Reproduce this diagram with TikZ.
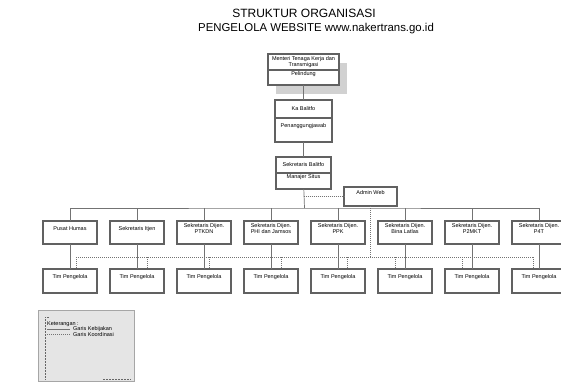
\documentclass[tikz,border=0pt]{standalone}
\usepackage{fontspec}
\setmainfont{Liberation Sans}
\usetikzlibrary{positioning, backgrounds}
\usepackage{xcolor}

\definecolor{boxline}{gray}{0.38}
\definecolor{conline}{gray}{0.45}
\definecolor{shadowgray}{gray}{0.82}
\definecolor{legendfill}{gray}{0.9}

\begin{document}
\begin{tikzpicture}[%
    x=1pt, y=-1pt,
    orgbox/.style = {draw=boxline, line width=1.1pt, fill=white, align=center,
        inner sep=1pt, outer sep=0pt, font=\fontsize{5.5}{6.5}\selectfont},
    unit/.style = {orgbox, minimum width=54, minimum height=23},
    policy/.style = {draw=conline, line width=0.7pt},
    coord/.style = {draw=conline, line width=0.55pt, dash pattern=on 1pt off 1pt}
]
\useasboundingbox (0,0) rectangle (561,381);

\node (judul) at (304,13) {\fontsize{12}{14}\selectfont STRUKTUR ORGANISASI};
\node (subjudul) at (316,29) {\fontsize{11.4}{14}\selectfont PENGELOLA WEBSITE www.nakertrans.go.id};

% pimpinan
\node (menteri) [orgbox, minimum width=71, minimum height=16] at (303.5,62) {Menteri Tenaga Kerja dan\\Transmigasi};
\node (pelindung) [orgbox, minimum width=71, minimum height=15, below=0pt of menteri] {Pelindung\\\strut};
\node (kabalitfo) [orgbox, minimum width=57, minimum height=18, below=15pt of pelindung] {Ka Balitfo};
\node (pj) [orgbox, minimum width=57, minimum height=24, below=0pt of kabalitfo] {Penanggungjawab\\\strut};
\node (sekbalitfo) [orgbox, minimum width=55, minimum height=16, below=15pt of pj] {Sekretaris Balitfo};
\node (manajer) [orgbox, minimum width=55, minimum height=16, below=0pt of sekbalitfo] {Manajer Situs\\\strut};
\node (adminweb) [orgbox, minimum width=53, minimum height=19] at (370.5,196.5) {Admin Web\\\strut};

\begin{scope}[on background layer]
    \fill[shadowgray] ([shift={(8,9)}]menteri.north west) rectangle ([shift={(8,9)}]pelindung.south east);
\end{scope}

% unit kerja
\foreach \i/\teks in {1/{Pusat Humas\\\strut}, 2/{Sekretaris Itjen\\\strut},
    3/{Sekretaris Dijen.\\PTKDN\\\strut}, 4/{Sekretaris Dijen.\\PHI dan Jamsos\\\strut},
    5/{Sekretaris Dijen.\\PPK\\\strut}, 6/{Sekretaris Dijen.\\Bina Latlas\\\strut},
    7/{Sekretaris Dijen.\\P2MKT\\\strut}, 8/{Sekretaris Dijen.\\P4T\\\strut}} {
    \node (unit\i) [unit] at ({3+67*\i},232.5) {\teks};
    \node (tim\i) [unit, minimum height=24] at ({3+67*\i},281) {Tim Pengelola\\\strut};
}

\coordinate (cabang) at (304.5,208);
\coordinate (koord) at (adminweb.south |- 0,257);

\draw[policy] (pelindung) -- (kabalitfo);
\draw[policy] (pj) -- (sekbalitfo);
\draw[policy] (manajer) -- (cabang);
\draw[policy] (unit1.north) |- (cabang) -| (unit8.north);
\foreach \i in {2,...,7}
    \draw[policy] (unit\i) -- (unit\i.north |- cabang);
\foreach \i in {1,...,8}
    \draw[policy] (unit\i) -- (tim\i);

\draw[coord] (manajer.south |- adminweb.west) -- (adminweb.west);
\draw[coord] (adminweb) -- (koord);
\draw[coord] ([xshift=6]tim1.north |- koord) -- ([xshift=-6]tim8.north |- koord);
\foreach \i/\dx in {1/6, 2/10, 3/5, 4/10, 5/9, 6/-10, 7/-10, 8/-6}
    \draw[coord] ([xshift=\dx]tim\i.north |- koord) -- ([xshift=\dx]tim\i.north);

% keterangan
\node (legenda) [draw=black!35, fill=legendfill, line width=0.6pt, minimum width=96, minimum height=71] at (86,345.5) {};
\begin{scope}[font=\fontsize{5.5}{6.5}\selectfont, inner sep=0pt]
    \node (ket) [anchor=west] at (47,324) {Keterangan :};
    \node (kebijakan) [anchor=west] at (73,329.5) {Garis Kebijakan};
    \node (koordinasi) [anchor=west] at (73,334.5) {Garis Koordinasi};
\end{scope}
\draw[policy, line width=0.5pt] ([xshift=-26]kebijakan.west) -- ([xshift=-3]kebijakan.west);
\draw[coord] ([xshift=-26]koordinasi.west) -- ([xshift=-3]koordinasi.west);
\draw[black!60, line width=0.5pt, dash pattern=on 2pt off 1pt] (49,317) -- (45,317) -- (45,380);
\draw[black!60, line width=0.5pt, dash pattern=on 2pt off 1pt] (103,379.5) -- (131,379.5);
\end{tikzpicture}
\end{document}
